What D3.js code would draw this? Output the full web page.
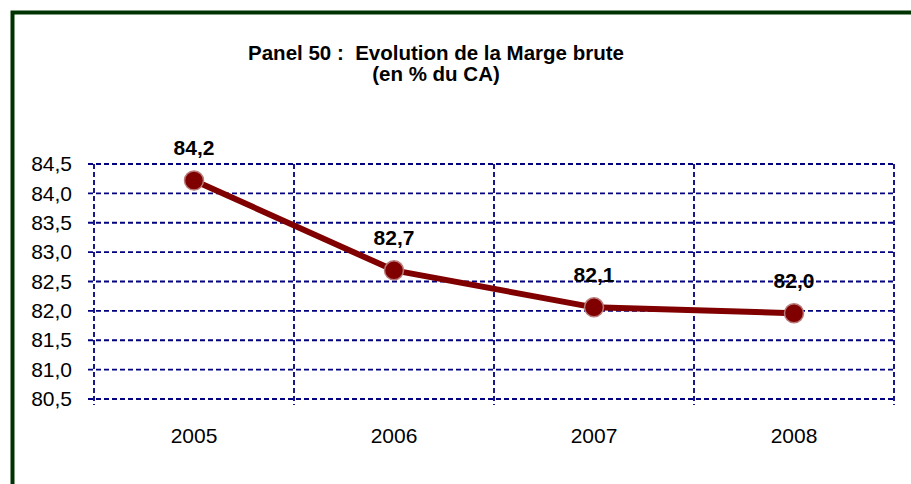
<!DOCTYPE html>
<html>
<head>
<meta charset="utf-8">
<script src="https://cdn.jsdelivr.net/npm/d3@7"></script>
<style>
  html, body { margin: 0; padding: 0; background: #fff; }
  svg { display: block; font-family: "Liberation Sans", Arial, sans-serif; }
</style>
</head>
<body>
<div id="chart"></div>
<script>
// data
const years = ["2005", "2006", "2007", "2008"];
const marge = [84.22, 82.69, 82.06, 81.96];
const margeLabels = ["84,2", "82,7", "82,1", "82,0"];
const yTicks = [80.5, 81.0, 81.5, 82.0, 82.5, 83.0, 83.5, 84.0, 84.5];
const titleLines = ["Panel 50 :  Evolution de la Marge brute", "(en % du CA)"];

const width = 911;
const height = 484;
const plot = { left: 94, right: 894, top: 164, bottom: 399 };

const svg = d3.select("#chart")
  .append("svg")
  .attr("width", width)
  .attr("height", height);

// green frame (runs off the right and bottom edge)
svg.append("rect")
  .attr("x", 12.5)
  .attr("y", 12.5)
  .attr("width", width + 20)
  .attr("height", height + 20)
  .attr("fill", "none")
  .attr("stroke", "#003300")
  .attr("stroke-width", 4);

// scales
const x = d3.scaleBand()
  .domain(years)
  .range([plot.left, plot.right]);

const y = d3.scaleLinear()
  .domain([80.5, 84.5])
  .range([plot.bottom, plot.top]);

const fr = d3.formatLocale({ decimal: ",", thousands: " ", grouping: [3], currency: ["", ""] });
const fmt = fr.format(".1f");

// grid
const gridColor = "#000080";
const grid = svg.append("g");

grid.selectAll(".hgrid")
  .data(yTicks)
  .enter()
  .append("line")
  .attr("x1", plot.left - 6)
  .attr("x2", plot.right)
  .attr("y1", (d) => y(d))
  .attr("y2", (d) => y(d))
  .attr("stroke", gridColor)
  .attr("stroke-width", 1.8)
  .attr("stroke-dasharray", "5,3");

const vLines = years.map((d) => x(d)).concat([plot.right]);
grid.selectAll(".vgrid")
  .data(vLines)
  .enter()
  .append("line")
  .attr("x1", (d) => d)
  .attr("x2", (d) => d)
  .attr("y1", plot.top)
  .attr("y2", plot.bottom + 6)
  .attr("stroke", gridColor)
  .attr("stroke-width", 1.8)
  .attr("stroke-dasharray", "5,3");

// y axis labels
const yAxis = d3.axisLeft(y)
  .tickValues(yTicks)
  .tickFormat(fmt)
  .tickSize(0)
  .tickPadding(22);

svg.append("g")
  .attr("transform", `translate(${plot.left},0)`)
  .call(yAxis)
  .call((g) => g.select(".domain").remove())
  .selectAll("text")
  .attr("font-family", "Liberation Sans, Arial, sans-serif")
  .attr("font-size", 21)
  .attr("fill", "#000");

// x axis labels
const xAxis = d3.axisBottom(x)
  .tickSize(0)
  .tickPadding(29);

svg.append("g")
  .attr("transform", `translate(0,${plot.bottom})`)
  .call(xAxis)
  .call((g) => g.select(".domain").remove())
  .selectAll("text")
  .attr("font-family", "Liberation Sans, Arial, sans-serif")
  .attr("font-size", 21)
  .attr("fill", "#000");

// line + markers
const points = years.map((d, i) => ({ year: d, value: marge[i], label: margeLabels[i] }));
const cx = (d) => x(d.year) + x.bandwidth() / 2;

const line = d3.line()
  .x(cx)
  .y((d) => y(d.value));

svg.append("path")
  .datum(points)
  .attr("d", line)
  .attr("fill", "none")
  .attr("stroke", "#800000")
  .attr("stroke-width", 6)
  .attr("stroke-linejoin", "round");

svg.selectAll(".dot")
  .data(points)
  .enter()
  .append("circle")
  .attr("cx", cx)
  .attr("cy", (d) => y(d.value))
  .attr("r", 9.5)
  .attr("fill", "#800000")
  .attr("stroke", "#b87a7a")
  .attr("stroke-width", 1.5);

// value labels
svg.selectAll(".vlabel")
  .data(points)
  .enter()
  .append("text")
  .attr("x", cx)
  .attr("y", (d) => y(d.value) - 25)
  .attr("text-anchor", "middle")
  .attr("font-size", 21)
  .attr("font-weight", "bold")
  .attr("fill", "#000")
  .text((d) => d.label);

// title
svg.selectAll(".title")
  .data(titleLines)
  .enter()
  .append("text")
  .attr("x", 436)
  .attr("y", (d, i) => 60 + i * 21)
  .attr("text-anchor", "middle")
  .attr("font-size", 20.5)
  .attr("font-weight", "bold")
  .attr("fill", "#000")
  .style("white-space", "pre")
  .text((d) => d);
</script>
</body>
</html>
